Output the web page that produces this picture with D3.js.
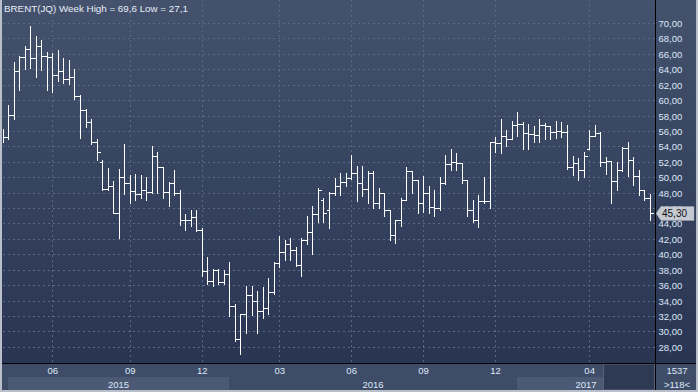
<html>
<head>
	<meta http-equiv="Content-Type" content="text/html; charset=utf-8" />
	<script src="https://cdn.jsdelivr.net/npm/d3@7/dist/d3.min.js" charset="utf-8"></script>
	<style type="text/css">
	body {
	  margin: 0;
	  background-color: #2f3c5a;
	  overflow: hidden;
	}
	.axis text {
	  font-family: "Liberation Sans", Arial, sans-serif;
	  font-size: 9.5px;
	  fill: #dde8f8;
	}
	.axis path, .axis line {
	  stroke: none;
	}
	</style>
</head>
<body>

	<svg width="698" height="392" version="1.1" xmlns="http://www.w3.org/2000/svg"></svg>

	<script type="text/javascript">
		// weekly bars (index 0 = first visible week)
		var v_Open  = [55.6,55.2,58.1,63.8,65.6,66.6,65.4,67.0,65.7,65.6,
		               63.3,63.8,62.7,63.0,60.5,58.7,57.2,54.5,52.0,48.5,
		               48.8,45.4,50.0,49.3,48.2,47.8,48.4,48.1,52.7,51.3,
		               48.1,49.3,47.9,44.5,44.5,44.9,43.2,37.8,36.5,37.9,
		               36.4,37.4,33.3,29.0,32.2,34.7,34.0,32.7,33.0,35.1,
		               38.9,40.3,41.3,40.6,38.6,41.9,42.9,45.2,47.0,45.8,
		               47.9,48.9,49.4,49.9,50.5,49.3,48.5,50.6,46.6,48.0,
		               45.8,42.5,44.5,47.1,50.8,49.6,46.6,47.9,46.1,46.0,
		               49.2,51.7,52.0,51.9,49.6,45.7,44.5,46.9,46.9,54.5,
		               54.4,55.3,55.0,56.8,56.9,55.7,55.6,55.5,56.8,56.6,
		               55.8,56.0,55.8,51.3,51.9,50.9,53.7,55.3,55.7,52.0,
		               52.1,49.5,50.9,53.8,52.2,50.1,48.3,47.3];
		var v_High  = [56.2,59.4,64.9,65.7,67.0,69.6,68.3,67.8,66.3,66.1,
		               66.5,65.4,65.2,64.0,60.6,58.9,57.5,55.0,52.2,51.2,
		               49.5,51.0,54.3,50.3,50.4,50.3,50.0,54.1,53.3,51.3,
		               49.4,50.9,48.3,45.2,45.8,45.8,43.4,39.6,38.1,38.1,
		               38.0,39.0,33.5,32.3,35.9,35.9,35.3,35.7,36.9,39.0,
		               42.4,41.9,42.1,41.0,42.1,45.0,46.3,48.6,47.3,48.1,
		               49.9,50.5,50.6,52.9,51.4,51.4,50.8,50.8,48.6,48.0,
		               45.8,44.5,47.3,51.3,50.8,49.6,50.2,48.8,48.3,50.0,
		               52.9,53.7,53.1,51.9,49.7,47.0,47.7,50.0,54.6,55.2,
		               57.6,56.1,57.3,58.4,57.1,56.9,56.7,57.5,57.0,56.7,
		               57.3,57.2,56.8,52.7,52.5,53.3,56.1,56.8,55.8,52.6,
		               52.1,52.0,53.9,54.6,52.6,50.9,48.4,47.8];
		var v_Low   = [54.6,55.0,57.5,61.3,64.0,64.2,63.0,63.9,61.3,61.0,
		               62.5,62.2,62.1,60.1,55.1,56.5,54.3,52.2,48.3,48.3,
		               45.3,42.1,47.8,46.7,47.0,47.3,47.1,48.0,47.9,47.3,
		               46.3,47.7,43.8,43.1,43.7,43.0,37.2,36.2,35.9,36.2,
		               36.2,32.0,28.7,27.1,29.8,32.1,29.8,31.8,32.3,34.9,
		               38.3,39.3,39.2,38.5,37.2,41.3,40.0,44.2,44.2,43.4,
		               47.7,47.7,48.8,49.8,46.9,47.6,46.7,46.0,46.0,45.0,
		               41.9,41.5,43.7,47.1,47.9,45.3,45.5,45.4,45.0,45.7,
		               49.1,50.9,50.9,49.3,45.0,44.2,43.5,46.6,46.0,53.3,
		               53.2,54.1,55.0,55.3,53.6,53.7,54.5,54.6,55.0,55.0,
		               55.1,55.2,51.1,50.3,49.6,50.0,53.6,55.3,51.5,50.4,
		               46.6,48.4,50.8,50.1,49.0,47.7,47.0,44.4];
		var v_Close = [55.2,58.1,63.8,65.6,66.6,65.4,67.0,65.7,65.6,63.3,
		               63.8,62.7,63.0,60.5,58.7,57.2,54.5,53.3,48.5,48.8,
		               45.4,50.0,49.3,48.2,47.8,48.4,48.1,52.7,51.3,48.1,
		               49.3,47.9,44.5,44.5,44.9,43.2,37.8,36.5,37.9,36.4,
		               37.4,33.3,29.0,32.2,34.7,34.0,32.7,33.0,35.1,38.9,
		               40.3,41.3,40.6,38.6,41.9,42.9,45.2,48.3,45.4,47.9,
		               48.9,49.4,49.9,50.5,49.3,48.5,50.6,46.6,48.0,45.8,
		               42.5,44.5,47.1,50.8,49.6,46.6,47.9,46.1,46.0,49.2,
		               51.7,52.0,51.9,49.6,45.7,44.5,46.9,46.9,54.5,54.4,
		               55.3,55.0,56.8,56.9,55.7,55.6,55.5,56.8,56.6,55.8,
		               56.0,55.8,51.3,51.9,50.9,52.8,55.3,55.7,52.0,52.1,
		               49.5,50.9,53.8,52.2,50.1,48.3,47.3,45.3];

		var v_MonthIdx    = [9 ,23 ,36 ,50 ,63 ,76 ,89 ,106];
		var v_MonthLabels = ["06","09","12","03","06","09","12","04"];
		var v_YearLabels  = ["2015","2016","2017"];
		var v_YearFrom    = [1 ,41 ,93];
		var v_YearTo      = [41 ,93 ,null];
		var v_PriceTicks  = d3.range(28 ,71 ,2);
		var v_Title       = "BRENT(JQ) Week High = 69,6 Low = 27,1";
		var v_LastText    = "45,30";
		var v_Counter     = ["1537" ,">118<"];


		function f_Comma(v)
		{
			return v.toFixed(2).replace(".", ",");
		}


		function f_Draw()
		{
			var v_SVG     = d3.select("svg");
			var v_W       = 698;
			var v_H       = 392;
			var v_Plot    = {left:3 ,right:655 ,top:0 ,bottom:363};
			var v_xScale  = d3.scaleLinear().domain([0 ,v_Close.length - 1]).range([2.5 ,650]);
			var v_yScale  = d3.scaleLinear().domain([28 ,70]).range([346.8 ,23]);
			var v_Defs    = v_SVG.append("defs");

			var v_Grad = v_Defs.append("linearGradient").attr("id" ,"bg")
			                   .attr("x1" ,0).attr("y1" ,0).attr("x2" ,0).attr("y2" ,1);
			v_Grad.append("stop").attr("offset" ,"0%").attr("stop-color" ,"#44526d");
			v_Grad.append("stop").attr("offset" ,"100%").attr("stop-color" ,"#293553");

			v_Defs.append("clipPath").attr("id" ,"plotclip")
			      .append("rect")
			      .attr("x" ,v_Plot.left).attr("y" ,0)
			      .attr("width" ,v_Plot.right - v_Plot.left).attr("height" ,v_Plot.bottom);

			// background
			v_SVG.append("rect").attr("x" ,0).attr("y" ,0).attr("width" ,v_W).attr("height" ,v_Plot.bottom)
			     .attr("fill" ,"url(#bg)");

			// horizontal grid
			v_SVG.append("g").selectAll("line").data(v_PriceTicks).enter().append("line")
			     .attr("x1" ,v_Plot.left).attr("x2" ,v_Plot.right)
			     .attr("y1" ,function(d){ return Math.round(v_yScale(d)) + 0.5; })
			     .attr("y2" ,function(d){ return Math.round(v_yScale(d)) + 0.5; })
			     .attr("stroke" ,"#5a6882").attr("stroke-dasharray" ,"2,3");

			// vertical grid
			v_SVG.append("g").selectAll("line").data(v_MonthIdx).enter().append("line")
			     .attr("x1" ,function(d){ return Math.round(v_xScale(d)) + 0.5; })
			     .attr("x2" ,function(d){ return Math.round(v_xScale(d)) + 0.5; })
			     .attr("y1" ,0).attr("y2" ,v_Plot.bottom)
			     .attr("stroke" ,"#5a6882").attr("stroke-dasharray" ,"2,3");

			// OHLC bars
			var v_Bars = v_SVG.append("g").attr("clip-path" ,"url(#plotclip)")
			                  .attr("stroke" ,"#ffffff").attr("stroke-width" ,1)
			                  .attr("shape-rendering" ,"crispEdges");
			var v_Idx = d3.range(v_Close.length);
			var v_Bar = v_Bars.selectAll("g").data(v_Idx).enter().append("g");
			function f_X(i){ return Math.round(v_xScale(i)) + 0.5; }
			function f_Y(v){ return Math.round(v_yScale(v)) + 0.5; }
			v_Bar.append("line")
			     .attr("x1" ,f_X).attr("x2" ,f_X)
			     .attr("y1" ,function(i){ return f_Y(v_High[i]) - 0.5; })
			     .attr("y2" ,function(i){ return f_Y(v_Low[i]) + 0.5; });
			v_Bar.append("line")
			     .attr("x1" ,function(i){ return f_X(i) - 3; }).attr("x2" ,f_X)
			     .attr("y1" ,function(i){ return f_Y(v_Open[i]); })
			     .attr("y2" ,function(i){ return f_Y(v_Open[i]); });
			v_Bar.append("line")
			     .attr("x1" ,f_X).attr("x2" ,function(i){ return f_X(i) + 3; })
			     .attr("y1" ,function(i){ return f_Y(v_Close[i]); })
			     .attr("y2" ,function(i){ return f_Y(v_Close[i]); });

			// right price axis
			var v_YAxis = d3.axisRight(v_yScale).tickValues(v_PriceTicks).tickSize(0).tickPadding(3)
			                .tickFormat(f_Comma);
			v_SVG.append("g").attr("class" ,"axis")
			     .attr("transform" ,"translate(" + (v_Plot.right + 0.5) + ",0.5)")
			     .call(v_YAxis);

			// last price marker
			var v_LY = Math.round(v_yScale(v_Close[v_Close.length - 1])) + 0.5;
			v_SVG.append("path")
			     .attr("d" ,"M656," + v_LY + "L661," + (v_LY - 7) + "H694V" + (v_LY + 7) + "H661Z")
			     .attr("fill" ,"#c5c9d1").attr("stroke" ,"#9aa0aa").attr("stroke-width" ,0.5);
			v_SVG.append("text").attr("x" ,662).attr("y" ,v_LY).attr("dy" ,"0.35em")
			     .attr("font-family" ,"Liberation Sans, Arial, sans-serif").attr("font-size" ,"10px")
			     .attr("fill" ,"#111111").text(v_LastText);

			// bottom strip
			v_SVG.append("rect").attr("x" ,0).attr("y" ,v_Plot.bottom).attr("width" ,v_W).attr("height" ,v_H - v_Plot.bottom)
			     .attr("fill" ,"#3e4c67");
			v_SVG.append("g").selectAll("rect").data(v_YearLabels).enter().append("rect")
			     .attr("x" ,function(d ,i){ return Math.round(v_xScale(v_YearFrom[i])); })
			     .attr("y" ,377)
			     .attr("width" ,function(d ,i)
			     {
			         var v_To = v_YearTo[i] === null ? v_Plot.right : Math.round(v_xScale(v_YearTo[i]));
			         return v_To - Math.round(v_xScale(v_YearFrom[i]));
			     })
			     .attr("height" ,13)
			     .attr("fill" ,function(d ,i){ return i % 2 == 0 ? "#4b5974" : "#3e4c67"; });

			// scroll area overlay at the right of the strip
			v_SVG.append("rect").attr("x" ,603.5).attr("y" ,v_Plot.bottom + 1).attr("width" ,v_Plot.right - 604).attr("height" ,26)
			     .attr("fill" ,"#2e3a52").attr("stroke" ,"#55627a").attr("stroke-width" ,1);

			var v_XAxis = d3.axisBottom(v_xScale).tickValues(v_MonthIdx).tickSize(0).tickPadding(4)
			                .tickFormat(function(d ,i){ return v_MonthLabels[i]; });
			v_SVG.append("g").attr("class" ,"axis")
			     .attr("transform" ,"translate(0," + v_Plot.bottom + ")")
			     .call(v_XAxis);

			v_SVG.append("g").attr("class" ,"axis").selectAll("text").data(v_YearLabels).enter().append("text")
			     .attr("x" ,function(d ,i)
			     {
			         var v_To = v_YearTo[i] === null ? v_Plot.right : Math.round(v_xScale(v_YearTo[i]));
			         return (Math.round(v_xScale(v_YearFrom[i])) + v_To) / 2;
			     })
			     .attr("y" ,387.5).attr("text-anchor" ,"middle").text(function(d){ return d; });

			// corner counters
			var v_Corner = v_SVG.append("g").attr("class" ,"axis");
			v_Corner.append("text").attr("x" ,677).attr("y" ,374).attr("text-anchor" ,"middle").text(v_Counter[0]);
			v_Corner.append("line").attr("x1" ,666).attr("x2" ,689).attr("y1" ,377.5).attr("y2" ,377.5)
			        .attr("stroke" ,"#7a8aa2");
			v_Corner.append("text").attr("x" ,677).attr("y" ,387.5).attr("text-anchor" ,"middle").text(v_Counter[1]);

			// separators
			v_SVG.append("line").attr("x1" ,v_Plot.right + 0.5).attr("x2" ,v_Plot.right + 0.5)
			     .attr("y1" ,0).attr("y2" ,v_H).attr("stroke" ,"#000000");
			v_SVG.append("line").attr("x1" ,0).attr("x2" ,v_W)
			     .attr("y1" ,v_Plot.bottom + 0.5).attr("y2" ,v_Plot.bottom + 0.5).attr("stroke" ,"#000000");

			// title
			v_SVG.append("text").attr("x" ,4).attr("y" ,12)
			     .attr("font-family" ,"Liberation Sans, Arial, sans-serif").attr("font-size" ,"9.8px")
			     .attr("fill" ,"#e8eef8").text(v_Title);

			// outer frame
			v_SVG.append("rect").attr("x" ,1).attr("y" ,-1).attr("width" ,v_W - 2).attr("height" ,v_H)
			     .attr("fill" ,"none").attr("stroke" ,"#b9c0cc").attr("stroke-width" ,2);
		}


		f_Draw();
	</script>

</body>
</html>
